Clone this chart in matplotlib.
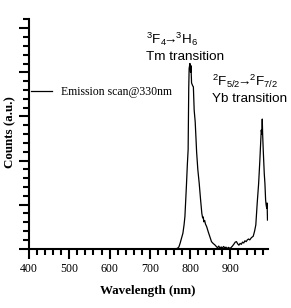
import numpy as np
import matplotlib
matplotlib.use("Agg")
import matplotlib.pyplot as plt
from matplotlib.ticker import MultipleLocator

plt.rcParams['mathtext.fontset'] = 'custom'
plt.rcParams['mathtext.rm'] = 'Liberation Sans'
plt.rcParams['mathtext.it'] = 'Liberation Sans:italic'
plt.rcParams['mathtext.bf'] = 'Liberation Sans:bold'

# emission spectrum (wavelength nm, counts)
wavelength = [760, 768, 772, 775, 778, 782, 785, 787, 789, 791, 793, 795,
              795.8, 796.5, 797.5, 799.5, 801, 802, 803.5, 806, 808, 810,
              812.5, 814.5, 816, 819, 822.5, 826, 829, 831, 832.5, 834, 836,
              838, 841, 845, 849, 853, 857, 861, 865, 868, 871, 874, 877,
              880, 883, 886, 889, 892, 895, 898, 901, 905, 909, 912, 915,
              918, 921, 924, 927, 930, 933, 936, 939, 942, 945, 948, 952,
              956.6, 960, 963, 966.5, 970, 973, 974.5, 976.5, 978, 979, 980,
              981.6, 984, 985.6, 987.3, 988.5, 990, 991, 992]
counts = [0, 5, 40, 120, 220, 350, 550, 730, 1100, 1480, 1900, 2250,
          3000, 3650, 4090, 4200, 4000, 4150, 3760, 3700, 3670, 3140,
          2880, 2500, 2200, 1800, 1480, 1100, 800, 700, 720, 610, 640,
          560, 500, 380, 270, 160, 120, 90, 50, 20, 60, 10, 40,
          15, 50, 20, 35, 0, 30, 10, 20, 60, 110, 150, 160,
          110, 80, 120, 100, 150, 130, 180, 160, 200, 220, 200, 250,
          283, 400, 540, 1040, 1480, 2000, 2300, 2690, 2600, 2940, 2580,
          2200, 1700, 1480, 1110, 1000, 920, 1036, 650]

x_ticks = [400, 500, 600, 700, 800, 900]

fig = plt.figure(figsize=(2.91, 3.08), dpi=100)
ax = fig.add_axes([0.0997, 0.1925, 0.8223, 0.7445])

ax.plot(wavelength, counts, color='black', lw=0.9, label='Emission scan@330nm')

ax.set_xlim(400, 994)
ax.set_ylim(0, 5200)
ax.set_xticks(x_ticks)
ax.xaxis.set_minor_locator(MultipleLocator(20))
ax.yaxis.set_major_locator(MultipleLocator(1000))
ax.yaxis.set_minor_locator(MultipleLocator(200))

for s in ['top', 'right']:
    ax.spines[s].set_visible(False)
for s in ['left', 'bottom']:
    ax.spines[s].set_linewidth(1.5)

ax.tick_params(which='major', direction='out', length=7, width=1.5, pad=3.5)
ax.tick_params(which='minor', direction='out', length=4, width=1.5)
ax.tick_params(axis='y', which='both', labelleft=False)
for lab in ax.get_xticklabels():
    lab.set_fontfamily('Liberation Serif')
    lab.set_fontsize(8.6)

fig.text(148 / 291, 1 - 291 / 308, 'Wavelength (nm)', ha='center', va='center',
         family='Liberation Serif', weight='bold', fontsize=9.4)
fig.text(10 / 291, 1 - 132.5 / 308, 'Counts (a.u.)', ha='center', va='center',
         rotation=90, family='Liberation Serif', weight='bold', fontsize=9.4)

leg = ax.legend(loc='center left', bbox_to_anchor=(31 / 291, 1 - 92 / 308),
                bbox_transform=fig.transFigure, frameon=False, borderpad=0,
                borderaxespad=0, handlelength=1.8, handletextpad=0.75,
                prop={'family': 'Liberation Serif', 'size': 8.5})

ax.text(0.489, 0.891, r'$^3$F$_4\!$→$\!^3$H$_6$', transform=ax.transAxes,
        ha='left', va='baseline', family='Liberation Sans', fontsize=9.7)
ax.text(0.489, 0.823, 'Tm transition', transform=ax.transAxes,
        ha='left', va='baseline', family='Liberation Sans', fontsize=9.7)
ax.text(0.763, 0.712, r'$^2$F$_{5/2}\!$→$\!^2$F$_{7/2}$', transform=ax.transAxes,
        ha='left', va='baseline', family='Liberation Sans', fontsize=9.7)
ax.text(0.763, 0.638, 'Yb transition', transform=ax.transAxes,
        ha='left', va='baseline', family='Liberation Sans', fontsize=9.7)

fig.savefig('out.png', dpi=100)
